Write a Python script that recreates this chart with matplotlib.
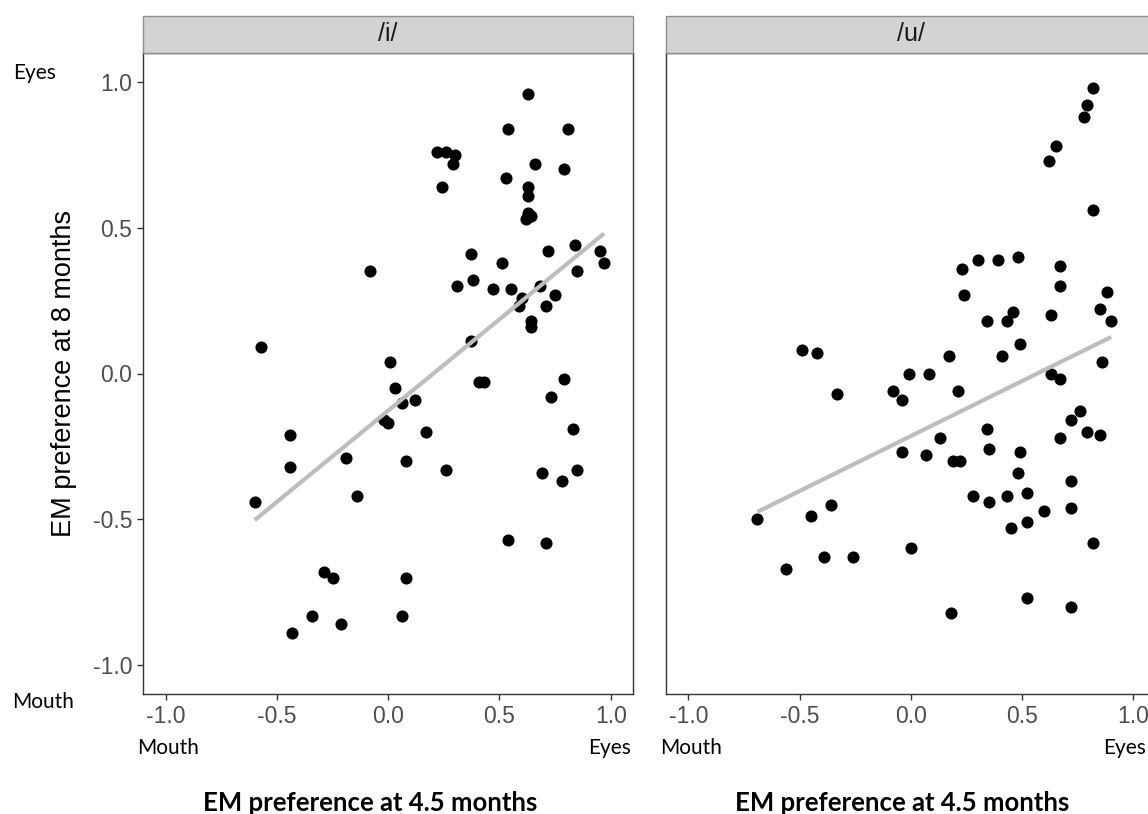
import numpy as np
import matplotlib
matplotlib.use("Agg")
import matplotlib.pyplot as plt
from matplotlib.patches import Rectangle

# ---- data ----
panels = ["/i/", "/u/"]

i_x = [0.63, 0.54, 0.81, 0.22, 0.26, 0.30, 0.29, 0.66, 0.79, 0.24, 0.53, 0.63, 0.63, 0.63, 0.64, 0.62,
       0.37, 0.51, 0.72, 0.84, 0.95, 0.97, 0.85, -0.08, 0.31, 0.38, 0.47, 0.55, 0.68, 0.75, 0.60, 0.59,
       0.71, 0.64, 0.64, -0.57, 0.37, 0.01, 0.03, 0.06, 0.12, 0.41, 0.43, 0.79, 0.73, 0.83, 0.85, 0.69,
       0.78, 0.26, 0.17, 0.08, -0.02, 0.00, -0.19, -0.14, -0.44, -0.44, -0.60, 0.54, 0.71, -0.29, -0.25,
       0.08, -0.34, -0.21, -0.43, 0.06]
i_y = [0.96, 0.84, 0.84, 0.76, 0.76, 0.75, 0.72, 0.72, 0.70, 0.64, 0.67, 0.64, 0.61, 0.55, 0.54, 0.53,
       0.41, 0.38, 0.42, 0.44, 0.42, 0.38, 0.35, 0.35, 0.30, 0.32, 0.29, 0.29, 0.30, 0.27, 0.26, 0.23,
       0.23, 0.18, 0.16, 0.09, 0.11, 0.04, -0.05, -0.10, -0.09, -0.03, -0.03, -0.02, -0.08, -0.19, -0.33, -0.34,
       -0.37, -0.33, -0.20, -0.30, -0.16, -0.17, -0.29, -0.42, -0.21, -0.32, -0.44, -0.57, -0.58, -0.68, -0.70,
       -0.70, -0.83, -0.86, -0.89, -0.83]

u_x = [0.82, 0.79, 0.78, 0.65, 0.62, 0.82, 0.23, 0.30, 0.39, 0.48, 0.67, 0.67, 0.88, 0.24, 0.46, 0.43,
       0.34, 0.63, 0.85, 0.90, 0.49, -0.49, -0.42, 0.17, 0.41, 0.86, -0.01, 0.08, 0.63, 0.67, -0.33, -0.08,
       -0.04, 0.21, 0.76, 0.72, 0.79, 0.85, 0.67, 0.34, 0.13, -0.04, 0.07, 0.19, 0.22, 0.35, 0.49, 0.48,
       0.72, 0.52, 0.43, 0.28, 0.35, 0.72, 0.60, 0.52, 0.45, -0.69, -0.45, -0.36, -0.39, -0.26, 0.00, -0.56,
       0.82, 0.52, 0.72, 0.18]
u_y = [0.98, 0.92, 0.88, 0.78, 0.73, 0.56, 0.36, 0.39, 0.39, 0.40, 0.37, 0.30, 0.28, 0.27, 0.21, 0.18,
       0.18, 0.20, 0.22, 0.18, 0.10, 0.08, 0.07, 0.06, 0.06, 0.04, 0.00, 0.00, 0.00, -0.02, -0.07, -0.06,
       -0.09, -0.06, -0.13, -0.16, -0.20, -0.21, -0.22, -0.19, -0.22, -0.27, -0.28, -0.30, -0.30, -0.26, -0.27, -0.34,
       -0.37, -0.41, -0.42, -0.42, -0.44, -0.46, -0.47, -0.51, -0.53, -0.50, -0.49, -0.45, -0.63, -0.63, -0.60, -0.67,
       -0.58, -0.77, -0.80, -0.82]

ticks = [-1.0, -0.5, 0.0, 0.5, 1.0]
tick_labels = ["-1.0", "-0.5", "0.0", "0.5", "1.0"]

W, H = 1148, 814
fig = plt.figure(figsize=(W / 100, H / 100), dpi=100)

def fx(px):
    return px / W

def fy(py):
    return 1 - py / H

ax_w = (633 - 143.3) / W
ax_h = (694.3 - 52.7) / H
ax_b = fy(694.3)
axes = [fig.add_axes([fx(143.3), ax_b, ax_w, ax_h]),
        fig.add_axes([fx(666), ax_b, ax_w, ax_h])]

data = [(i_x, i_y), (u_x, u_y)]
strip_h = (52.7 - 16) / (694.3 - 52.7)

for k, (ax, (xs, ys)) in enumerate(zip(axes, data)):
    xs = np.asarray(xs)
    ys = np.asarray(ys)
    ax.scatter(xs, ys, s=76, color="black", linewidths=0, zorder=3)
    b, a = np.polyfit(xs, ys, 1)
    xl = np.array([xs.min(), xs.max()])
    ax.plot(xl, a + b * xl, color="#bdbdbd", lw=3.0, zorder=4, solid_capstyle="butt")
    ax.set_xlim(-1.1, 1.1)
    ax.set_ylim(-1.1, 1.1)
    ax.set_xticks(ticks)
    ax.set_xticklabels(tick_labels)
    ax.set_yticks(ticks)
    for sp in ax.spines.values():
        sp.set_color("#333333")
        sp.set_linewidth(1.0)
    ax.tick_params(axis="both", direction="out", length=4, width=1.0, color="#333333",
                   labelcolor="#4d4d4d", labelsize=16.5, pad=4)
    for lab in ax.get_xticklabels() + ax.get_yticklabels():
        lab.set_fontfamily("Liberation Sans")
    if k == 0:
        ax.set_yticklabels(tick_labels)
        ax.set_ylabel("EM preference at 8 months", fontsize=19.5, family="Liberation Sans",
                      color="black", labelpad=11)
    else:
        ax.tick_params(axis="y", left=False, labelleft=False)
    rect = Rectangle((0, 1), 1, strip_h, transform=ax.transAxes, facecolor="#d3d3d3",
                     edgecolor="#8f8f8f", lw=1.0, clip_on=False, zorder=5)
    ax.add_patch(rect)
    ax.text(0.5, 1 + strip_h / 2, panels[k], transform=ax.transAxes, ha="center", va="center",
            fontsize=18, family="Liberation Sans", color="#1a1a1a", zorder=6)

lato = "Lato"
fs_small = 15
fig.text(fx(13), fy(73), "Eyes", ha="left", va="center", fontsize=fs_small, family=lato)
fig.text(fx(12), fy(702), "Mouth", ha="left", va="center", fontsize=fs_small, family=lato)
fig.text(fx(137), fy(748), "Mouth", ha="left", va="center", fontsize=fs_small, family=lato)
fig.text(fx(588), fy(748), "Eyes", ha="left", va="center", fontsize=fs_small, family=lato)
fig.text(fx(660), fy(748), "Mouth", ha="left", va="center", fontsize=fs_small, family=lato)
fig.text(fx(1146), fy(748), "Eyes", ha="right", va="center", fontsize=fs_small, family=lato)
fig.text(fx(370), fy(803), "EM preference at 4.5 months", ha="center", va="center",
         fontsize=18.5, family=lato, fontweight="bold")
fig.text(fx(902), fy(803), "EM preference at 4.5 months", ha="center", va="center",
         fontsize=18.5, family=lato, fontweight="bold")

fig.savefig("out.png", dpi=100)
